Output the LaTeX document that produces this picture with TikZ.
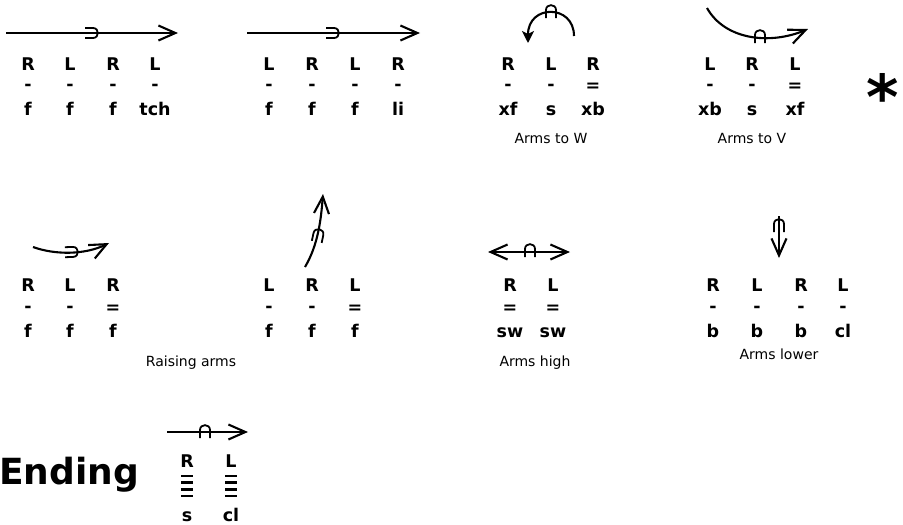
\documentclass[tikz,border=0pt]{standalone}
\usepackage{fontspec}
\setmainfont{DejaVu Sans}
\usetikzlibrary{arrows.meta}
\newcommand\lfont{\fontsize{17.5}{20}\selectfont\bfseries}
\newcommand\capfont{\fontsize{14}{16}\selectfont}
\tikzset{
  lt/.style={anchor=base, inner sep=0pt, font=\lfont},
  capt/.style={anchor=base, inner sep=0pt, font=\capfont},
  arr/.style={line width=2.1pt, -{Straight Barb[length=17pt,width=15pt]}},
  darr/.style={line width=2.1pt, {Straight Barb[length=17pt,width=15pt]}-{Straight Barb[length=17pt,width=15pt]}},
  sarr/.style={line width=2.1pt, -{Stealth[length=12pt,width=12pt,inset=3pt]}},
  hookn/.pic={\draw[line width=1.8pt] (-5,6) -- (-5,-2) .. controls (-5,-8.5) and (5,-8.5) .. (5,-2) -- (5,6);}
}
\begin{document}
\begin{tikzpicture}[x=1pt,y=-1pt]
\useasboundingbox (0,0) rectangle (903,525);

% ---------- Row 1, panel 1
\coordinate (a0) at (6,33); \coordinate (a1) at (178,33);
\draw[arr] (a0) -- (a1);
\pic[rotate=-90] at (91,33) {hookn};
\node[lt] (p1r1) at (28,70) {R};  \node[lt] (p1r2) at (70,70) {L};
\node[lt] (p1r3) at (113,70) {R}; \node[lt] (p1r4) at (155,70) {L};
\node[lt] (p1s1) at (28,90.5) {-};  \node[lt] (p1s2) at (70,90.5) {-};
\node[lt] (p1s3) at (113,90.5) {-}; \node[lt] (p1s4) at (155,90.5) {-};
\node[lt] (p1b1) at (28,115) {f};  \node[lt] (p1b2) at (70,115) {f};
\node[lt] (p1b3) at (113,115) {f}; \node[lt] (p1b4) at (155,115) {tch};

% ---------- Row 1, panel 2
\coordinate (b0) at (247,33); \coordinate (b1) at (420,33);
\draw[arr] (b0) -- (b1);
\pic[rotate=-90] at (332,33) {hookn};
\node[lt] (p2r1) at (269,70) {L};  \node[lt] (p2r2) at (312,70) {R};
\node[lt] (p2r3) at (355,70) {L};  \node[lt] (p2r4) at (398,70) {R};
\node[lt] (p2s1) at (269,90.5) {-};  \node[lt] (p2s2) at (312,90.5) {-};
\node[lt] (p2s3) at (355,90.5) {-};  \node[lt] (p2s4) at (398,90.5) {-};
\node[lt] (p2b1) at (269,115) {f};  \node[lt] (p2b2) at (312,115) {f};
\node[lt] (p2b3) at (355,115) {f};  \node[lt] (p2b4) at (398,115) {li};

% ---------- Row 1, panel 3 (Arms to W)
\coordinate (c0) at (574,36); \coordinate (c1) at (528,43);
\draw[sarr] (c0) .. controls (574,4) and (528,4) .. (c1);
\pic at (551,12) {hookn};
\node[lt] (p3r1) at (508,70) {R};  \node[lt] (p3r2) at (551,70) {L};
\node[lt] (p3r3) at (593,70) {R};
\node[lt] (p3s1) at (508,90.5) {-};  \node[lt] (p3s2) at (551,90.5) {-};
\node[lt] (p3s3) at (593,91.5) {=};
\node[lt] (p3b1) at (508,115) {xf};  \node[lt] (p3b2) at (551,115) {s};
\node[lt] (p3b3) at (593,115) {xb};
\node[capt] (p3c) at (551,143) {Arms to W};

% ---------- Row 1, panel 4 (Arms to V)
\coordinate (d0) at (707,8); \coordinate (d1) at (808,29);
\draw[arr] (d0) .. controls (725,40) and (770,45) .. (d1);
\pic at (760,37) {hookn};
\node[lt] (p4r1) at (710,70) {L};  \node[lt] (p4r2) at (752,70) {R};
\node[lt] (p4r3) at (795,70) {L};
\node[lt] (p4s1) at (710,90.5) {-};  \node[lt] (p4s2) at (752,90.5) {-};
\node[lt] (p4s3) at (795,91.5) {=};
\node[lt] (p4b1) at (710,115) {xb};  \node[lt] (p4b2) at (752,115) {s};
\node[lt] (p4b3) at (795,115) {xf};
\node[capt] (p4c) at (752,143) {Arms to V};

\node[anchor=north, inner sep=0pt, font=\fontsize{62}{62}\selectfont\bfseries] (star) at (883,73) {*};

% ---------- Row 2, panel 1
\coordinate (e0) at (33,247); \coordinate (e1) at (109,243);
\draw[arr] (e0) .. controls (55,255) and (85,255) .. (e1);
\pic[rotate=-88] at (71,252) {hookn};
\node[lt] (q1r1) at (28,291) {R};  \node[lt] (q1r2) at (70,291) {L};
\node[lt] (q1r3) at (113,291) {R};
\node[lt] (q1s1) at (28,312) {-};  \node[lt] (q1s2) at (70,312) {-};
\node[lt] (q1s3) at (113,313) {=};
\node[lt] (q1b1) at (28,337) {f};  \node[lt] (q1b2) at (70,337) {f};
\node[lt] (q1b3) at (113,337) {f};

\node[capt] (q12c) at (191,366) {Raising arms};

% ---------- Row 2, panel 2
\coordinate (f0) at (305,267); \coordinate (f1) at (323,194);
\draw[arr] (f0) .. controls (318,245) and (321,220) .. (f1);
\pic[rotate=-12] at (318,236) {hookn};
\node[lt] (q2r1) at (269,291) {L};  \node[lt] (q2r2) at (312,291) {R};
\node[lt] (q2r3) at (355,291) {L};
\node[lt] (q2s1) at (269,312) {-};  \node[lt] (q2s2) at (312,312) {-};
\node[lt] (q2s3) at (355,313) {=};
\node[lt] (q2b1) at (269,337) {f};  \node[lt] (q2b2) at (312,337) {f};
\node[lt] (q2b3) at (355,337) {f};

% ---------- Row 2, panel 3 (Arms high)
\coordinate (g0) at (488,252); \coordinate (g1) at (570,252);
\draw[darr] (g0) -- (g1);
\pic at (530,251) {hookn};
\node[lt] (q3r1) at (510,291) {R};  \node[lt] (q3r2) at (553,291) {L};
\node[lt] (q3s1) at (510,313) {=};  \node[lt] (q3s2) at (553,313) {=};
\node[lt] (q3b1) at (510,337) {sw}; \node[lt] (q3b2) at (553,337) {sw};
\node[capt] (q3c) at (535,366) {Arms high};

% ---------- Row 2, panel 4 (Arms lower)
\coordinate (h0) at (779,216); \coordinate (h1) at (779,258);
\draw[arr] (h0) -- (h1);
\pic at (779,226) {hookn};
\node[lt] (q4r1) at (713,291) {R};  \node[lt] (q4r2) at (757,291) {L};
\node[lt] (q4r3) at (801,291) {R};  \node[lt] (q4r4) at (843,291) {L};
\node[lt] (q4s1) at (713,312) {-};  \node[lt] (q4s2) at (757,312) {-};
\node[lt] (q4s3) at (801,312) {-};  \node[lt] (q4s4) at (843,312) {-};
\node[lt] (q4b1) at (713,337) {b};  \node[lt] (q4b2) at (757,337) {b};
\node[lt] (q4b3) at (801,337) {b};  \node[lt] (q4b4) at (843,337) {cl};
\node[capt] (q4c) at (779,359) {Arms lower};

% ---------- Ending
\node[anchor=base east, inner sep=0pt, font=\fontsize{36}{40}\selectfont\bfseries] (ending) at (139,484) {Ending};
\coordinate (k0) at (167,432); \coordinate (k1) at (248,432);
\draw[arr] (k0) -- (k1);
\pic at (205,432) {hookn};
\node[lt] (e1r) at (187,467) {R};  \node[lt] (e2r) at (231,467) {L};
\foreach \yy in {476,482.6,489.3,496}{
  \fill (181,\yy-1.3) rectangle (193,\yy+1.3);
  \fill (225,\yy-1.3) rectangle (237,\yy+1.3);
}
\node[lt] (e1b) at (187,521) {s};  \node[lt] (e2b) at (231,521) {cl};
\end{tikzpicture}
\end{document}
